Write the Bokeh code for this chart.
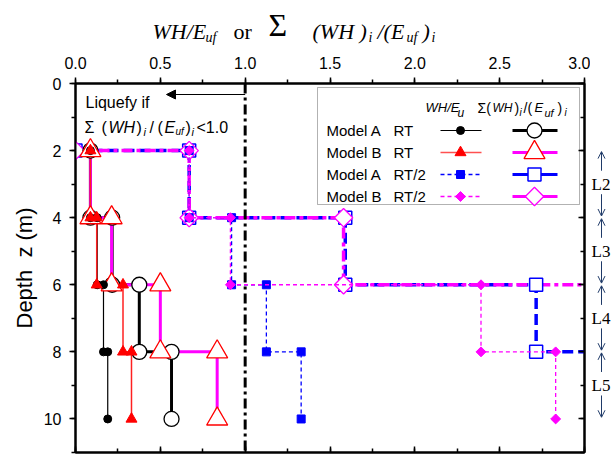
import math
from bokeh.plotting import figure
from bokeh.layouts import column, row
from bokeh.models import (Range1d, LinearAxis, SingleIntervalTicker, Label, Span,
                          Arrow, OpenHead, NormalHead, BoxAnnotation, PrintfTickFormatter)
from bokeh.embed import file_html
from bokeh.resources import INLINE

# ---------------- data ----------------
LAYER_TOP = [2, 4, 6, 8]
LAYER_BOTTOM = [4, 6, 8, 10]
LAYER_NAMES = ["L2", "L3", "L4", "L5"]
LAYER_CENTER = [3, 5, 7, 9]

A_RT_inc = [0.088, 0.128, 0.165, 0.19]
A_RT_cum = [0.088, 0.216, 0.376, 0.566]
B_RT_inc = [0.088, 0.125, 0.28, 0.33]
B_RT_cum = [0.088, 0.213, 0.50, 0.835]
A_RT2_inc = [0.67, 0.92, 1.125, 1.33]
A_RT2_cum = [0.67, 1.59, 2.715, 4.05]
B_RT2_inc = [0.67, 0.913, 2.39, 2.83]
B_RT2_cum = [0.67, 1.58, 3.97, 6.80]

LIQUEFY_LIMIT = 1.0

# ---------------- layout constants (page pixels) ----------------
W, H = 611, 457
TITLE_H = 46
FL, FR, FT, FB = 75, 584, 83, 452
MAIN_W = 590
XMAX, YMAX = 3.0, 11.0

SANS = "Liberation Sans"
SERIF = "Liberation Serif"
BLUE = "#0000ff"
MAG = "#ff00ff"
RED = "#ff0000"


def dx(px):
    return (px - FL) / (FR - FL) * XMAX


def dy(py):
    return (py - FT) / (FB - FT) * YMAX


def steps(vals, start_zero=False):
    xs, ys = [], []
    if start_zero:
        xs.append(0.0)
        ys.append(LAYER_TOP[0])
    for v, t, b in zip(vals, LAYER_TOP, LAYER_BOTTOM):
        xs += [v, v]
        ys += [t, b]
    return xs, ys


def make_label(fig, text, x, y, size, style="normal", font=SANS, align="left",
               baseline="alphabetic", color="black"):
    fig.add_layout(Label(x=x, y=y, text=text, text_font=font,
                         text_font_size=f"{size}px", text_font_style=style,
                         text_align=align, text_baseline=baseline, text_color=color))


def bare(fig):
    fig.xgrid.visible = False
    fig.ygrid.visible = False
    fig.outline_line_color = None
    fig.background_fill_color = "white"
    fig.border_fill_color = "white"


# ================= title figure =================
tf = figure(width=W, height=TITLE_H, x_range=Range1d(0, W), y_range=Range1d(TITLE_H, 0),
            x_axis_location=None, y_axis_location=None, output_backend="svg",
            toolbar_location=None, min_border=0, title=None)
bare(tf)
ty = 31
for text, px, off, size, style in [("WH/E", 152, 0, 22, "italic"), ("uf", 205, 6, 14, "italic"),
                                   ("or", 233, 0, 22, "normal"),
                                   ("(WH )", 312, 0, 22, "italic"), ("i", 368, 6, 14, "italic"),
                                   ("/(E", 377, 0, 22, "italic"), ("uf", 406, 6, 14, "italic"),
                                   (")", 422, 0, 22, "italic"), ("i", 431, 6, 14, "italic")]:
    make_label(tf, text, px, ty + off, size, style, SERIF)
make_label(tf, "Σ", 268, 24, 32, "normal", SERIF, baseline="middle")

# ================= main figure =================
p = figure(width=MAIN_W, height=H - TITLE_H, x_range=Range1d(0, XMAX),
           y_range=Range1d(YMAX, 0), x_axis_location="above", output_backend="svg",
           toolbar_location=None, min_border_left=FL, min_border_right=MAIN_W - FR,
           min_border_top=FT - TITLE_H, min_border_bottom=H - FB, title=None)
bare(p)
p.outline_line_color = "black"
p.outline_line_width = 2

top = p.xaxis[0]
top.ticker = SingleIntervalTicker(interval=0.5, num_minor_ticks=2)
top.formatter = PrintfTickFormatter(format="%.1f")
left = p.yaxis[0]
left.ticker = SingleIntervalTicker(interval=2, num_minor_ticks=2)
left.axis_label = "Depth\u00a0\u00a0z (m)"
left.axis_label_text_font = SANS
left.axis_label_text_font_size = "22px"
left.axis_label_text_font_style = "normal"
left.axis_label_text_color = "black"
left.axis_label_standoff = 4
for ax in (top, left):
    ax.axis_line_width = 2
    ax.major_tick_line_width = 1.5
    ax.minor_tick_line_width = 1.5
    ax.major_tick_out = 6
    ax.major_tick_in = 0
    ax.minor_tick_out = 4
    ax.minor_tick_in = 0
    ax.major_label_text_font = SANS
    ax.major_label_text_font_size = "16px"
    ax.major_label_text_color = "black"
top.major_label_standoff = 9
left.major_label_standoff = 8

for loc, tick in (("below", SingleIntervalTicker(interval=0.5, num_minor_ticks=2)),
                  ("right", SingleIntervalTicker(interval=2, num_minor_ticks=2))):
    ax = LinearAxis(ticker=tick)
    ax.axis_line_width = 2
    ax.major_tick_line_width = 1.5
    ax.minor_tick_line_width = 1.5
    ax.major_tick_in = 6
    ax.major_tick_out = 0
    ax.minor_tick_in = 4
    ax.minor_tick_out = 0
    ax.major_label_text_font_size = "0px"
    ax.major_label_text_color = None
    ax.major_label_standoff = 0
    p.add_layout(ax, loc)

# ---------------- RT/2 series ----------------
xs, ys = steps(A_RT2_cum, True)
p.line(xs, ys, line_color=BLUE, line_width=3.5, line_dash="11 5")
xs2, ys2 = steps(B_RT2_cum, True)
p.line(xs2, ys2, line_color=MAG, line_width=3.5, line_dash="11 4 4 4")
p.scatter(xs, ys, marker="square", size=13, fill_color="white", line_color=BLUE, line_width=1.5)
p.scatter(xs2, ys2, marker="square", angle=math.pi / 4, size=13, fill_color="white",
          line_color=MAG, line_width=1.3)

xs, ys = steps(A_RT2_inc)
p.line(xs, ys, line_color=BLUE, line_width=1.3, line_dash="4 3")
p.scatter(xs, ys, marker="square", size=8, fill_color=BLUE, line_color=BLUE)
xs, ys = steps(B_RT2_inc)
p.line(xs, ys, line_color=MAG, line_width=1.3, line_dash="4 3")
p.scatter(xs, ys, marker="square", angle=math.pi / 4, size=7, fill_color=MAG, line_color=MAG)

# ---------------- RT series ----------------
xa, ya = steps(A_RT_cum)
xb, yb = steps(B_RT_cum)
xai, yai = steps(A_RT_inc)
xbi, ybi = steps(B_RT_inc)
p.line(xa, ya, line_color="black", line_width=3)
p.line(xb, yb, line_color=MAG, line_width=3)
p.line(xai, yai, line_color="black", line_width=1.2)
p.line(xbi, ybi, line_color="#ff2020", line_width=1.5)
p.scatter(xa, ya, marker="circle", size=15, fill_color="white", line_color="black", line_width=1.3)
p.scatter(xb, yb, marker="triangle", size=21, fill_color="white", line_color=RED, line_width=1.3)
p.scatter(xai, yai, marker="circle", size=8, fill_color="black", line_color="black")
p.scatter(xbi, ybi, marker="triangle", size=11, fill_color=RED, line_color=RED)

# ---------------- liquefaction limit ----------------
p.add_layout(Span(location=LIQUEFY_LIMIT, dimension="height", line_color="black",
                  line_width=3, line_dash="10 4 3 4"))
p.add_layout(Arrow(end=NormalHead(size=9, fill_color="black", line_color="black"),
                   x_start=LIQUEFY_LIMIT, y_start=dy(94), x_end=dx(166), y_end=dy(94),
                   line_color="black", line_width=1.2))


def lab(text, px, py, size, style="normal", font=SANS, baseline="alphabetic"):
    make_label(p, text, dx(px), dy(py), size, style, font, baseline=baseline)


lab("Liquefy if", 85, 102, 16)
by = 127
for text, px, off, size, style in [("Σ", 84, 0, 16, "normal"), ("(", 101, 0, 16, "normal"),
                                   ("WH", 108, 0, 16, "italic"), (")", 136, 0, 16, "normal"),
                                   ("i", 143, 4, 11, "italic"), ("/", 149, 0, 16, "normal"),
                                   ("(", 157, 0, 16, "normal"), ("E", 164, 0, 16, "italic"),
                                   ("uf", 175, 4, 10, "italic"), (")", 185, 0, 16, "normal"),
                                   ("i", 191, 4, 11, "italic"), ("<1.0", 196, 0, 16, "normal")]:
    lab(text, px, by + off, size, style)

# ---------------- legend ----------------
p.add_layout(BoxAnnotation(left=dx(317), right=dx(579), top=dy(87), bottom=dy(204),
                           fill_color="white", fill_alpha=1, line_color="black", line_width=1,
                           level="underlay"))

for text, px, off, size, style in [("WH/E", 425, 0, 13, "italic"), ("u", 457, 5, 12, "italic"),
                                   ("Σ(", 477, 0, 14, "normal"), ("WH", 492, 0, 12, "italic"),
                                   (")", 514, 0, 14, "normal"), ("i", 519, 5, 10, "italic"),
                                   ("/(", 523, 0, 14, "normal"), ("E", 534, 0, 13, "italic"),
                                   ("uf", 544, 5, 11, "italic"), (")", 557, 0, 14, "normal"),
                                   ("i", 564, 5, 10, "italic")]:
    lab(text, px, 107 + off, size, style)

rows = [130, 152, 174, 196]
names = [("Model A", "RT"), ("Model B", "RT"), ("Model A", "RT/2"), ("Model B", "RT/2")]
for (n1, n2), ry in zip(names, rows):
    lab(n1, 326, ry, 15, baseline="middle")
    lab(n2, 393, ry, 15, baseline="middle")

c1 = [dx(440), dx(481)]
c1m = dx(460)
c2 = [dx(512), dx(557)]
c2m = dx(534)

r = dy(rows[0])
p.line(c1, [r, r], line_color="black", line_width=1.2)
p.scatter([c1m], [r], marker="circle", size=8, fill_color="black", line_color="black")
p.line(c2, [r, r], line_color="black", line_width=3)
p.scatter([c2m], [r], marker="circle", size=15, fill_color="white", line_color="black", line_width=1.3)

r = dy(rows[1])
p.line(c1, [r, r], line_color="#ff5050", line_width=1.5)
p.scatter([c1m], [r], marker="triangle", size=11, fill_color=RED, line_color=RED)
p.line(c2, [r, r], line_color=MAG, line_width=3)
p.scatter([c2m], [r], marker="triangle", size=21, fill_color="white", line_color=RED, line_width=1.3)

r = dy(rows[2])
p.line(c1, [r, r], line_color=BLUE, line_width=1.3, line_dash="4 3")
p.scatter([c1m], [r], marker="square", size=8, fill_color=BLUE, line_color=BLUE)
p.line(c2, [r, r], line_color=BLUE, line_width=3)
p.scatter([c2m], [r], marker="square", size=13, fill_color="white", line_color=BLUE, line_width=1.5)

r = dy(rows[3])
p.line(c1, [r, r], line_color=MAG, line_width=1.3, line_dash="4 3")
p.scatter([c1m], [r], marker="square", angle=math.pi / 4, size=7, fill_color=MAG, line_color=MAG)
p.line(c2, [r, r], line_color=MAG, line_width=3)
p.scatter([c2m], [r], marker="square", angle=math.pi / 4, size=13, fill_color="white",
          line_color=MAG, line_width=1.3)

# ================= right strip with layer marks =================
rf = figure(width=W - MAIN_W, height=H - TITLE_H, x_range=Range1d(MAIN_W, W),
            y_range=p.y_range, x_axis_location=None, y_axis_location=None,
            output_backend="svg", toolbar_location=None, min_border_left=0,
            min_border_right=0, min_border_top=FT - TITLE_H, min_border_bottom=H - FB,
            title=None)
bare(rf)
LCOL = "#1f3a68"
for name, c, t, b in zip(LAYER_NAMES, LAYER_CENTER, LAYER_TOP, LAYER_BOTTOM):
    make_label(rf, name, 591, c, 17, "normal", SERIF, baseline="middle")
    rf.add_layout(Arrow(end=OpenHead(size=7, line_color=LCOL, line_width=1),
                        x_start=601, y_start=c - 0.4, x_end=601, y_end=t + 0.03,
                        line_color=LCOL, line_width=1))
    rf.add_layout(Arrow(end=OpenHead(size=7, line_color=LCOL, line_width=1),
                        x_start=601, y_start=c + 0.3, x_end=601, y_end=b - 0.05,
                        line_color=LCOL, line_width=1))

layout = column(tf, row(p, rf, spacing=0), spacing=0)
open("out.html", "w").write(file_html(layout, INLINE))
